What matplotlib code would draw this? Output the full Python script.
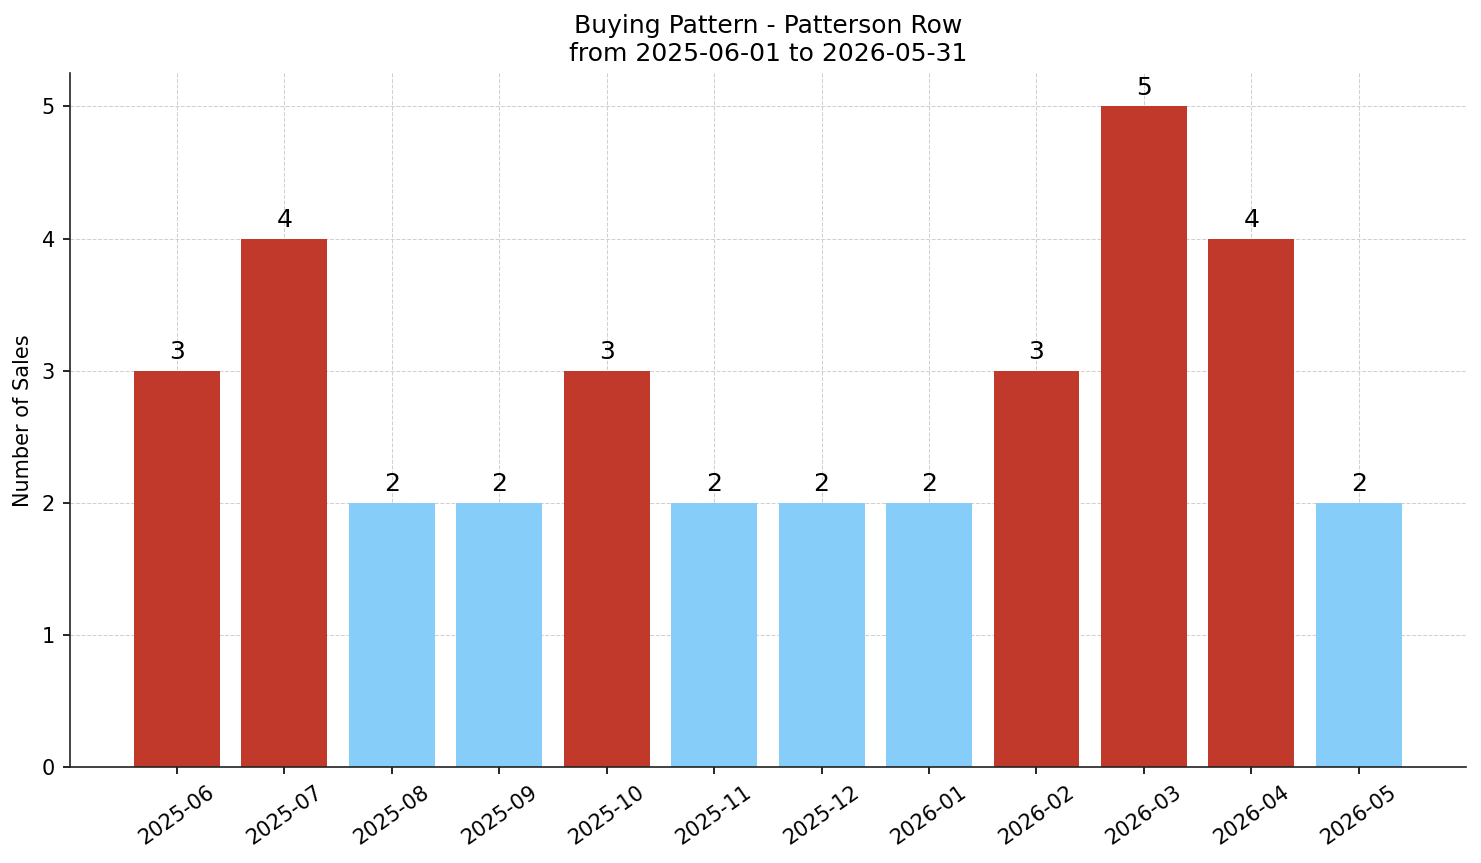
import matplotlib.pyplot as plt

months = ['2025-06', '2025-07', '2025-08', '2025-09', '2025-10', '2025-11',
          '2025-12', '2026-01', '2026-02', '2026-03', '2026-04', '2026-05']
sales = [3, 4, 2, 2, 3, 2, 2, 2, 3, 5, 4, 2]

colors = ['#c0392b' if v >= 3 else '#87cdf9' for v in sales]

fig, ax = plt.subplots(figsize=(1481 / 150, 863 / 150), dpi=150)
x = list(range(len(months)))
bars = ax.bar(x, sales, color=colors, width=0.8, zorder=2)

for b, v in zip(bars, sales):
    ax.text(b.get_x() + b.get_width() / 2, v + 0.05, str(v),
            ha='center', va='bottom', fontsize=12)

ax.set_xticks(x)
ax.set_xticklabels(months, rotation=35, ha='center', fontsize=10)
ax.tick_params(axis='y', labelsize=10)
ax.set_xlim(-1, 12)
ax.set_ylim(0, 5.25)
ax.set_ylabel('Number of Sales', fontsize=10)
ax.set_title('Buying Pattern - Patterson Row\nfrom 2025-06-01 to 2026-05-31', fontsize=12)
ax.grid(True, linestyle='--', color='#d0d0d0', linewidth=0.5, zorder=0)
ax.spines['top'].set_visible(False)
ax.spines['right'].set_visible(False)
for s in ['left', 'bottom']:
    ax.spines[s].set_color('#222222')

plt.subplots_adjust(left=0.047, right=0.99, top=0.915, bottom=0.111)
plt.savefig('out.png')
